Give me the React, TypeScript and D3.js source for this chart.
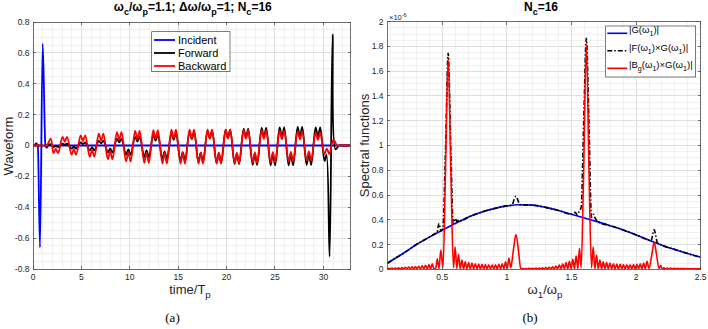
import * as d3 from 'd3';

const W = 708;
const H = 329;

// ---------- panel (a): waveforms vs time/T_p ----------
const incidentTime = [0, 0.15, 0.32, 0.5, 0.72, 1.0, 1.28, 1.42, 1.6, 32.8];
const incidentValue = [0, 0, 0.016, 0, -0.66, 0.66, 0, -0.016, 0, 0];

// one row per carrier cycle: centre of the negative lobe (the positive lobe follows it)
const cycleCentre = [2.35, 4.22, 6.1, 7.97, 9.85, 11.73, 13.6, 15.47, 17.33, 19.2, 21.06, 22.92, 24.78, 26.64, 28.5];
const lobeShift = 0.935; // negative lobe -> positive lobe
const humpHalf = 0.235; // half spacing of the twin humps inside a lobe

const backwardTrough = [-0.05, -0.06, -0.073, -0.09, -0.104, -0.113, -0.117, -0.118, -0.118, -0.117, -0.115, -0.112, -0.108, -0.104, -0.098];
const backwardBump = [-0.02, -0.025, -0.03, -0.036, -0.042, -0.046, -0.047, -0.047, -0.047, -0.047, -0.046, -0.045, -0.043, -0.041, -0.039];
const backwardPeak = [0.056, 0.066, 0.076, 0.087, 0.095, 0.1, 0.102, 0.103, 0.103, 0.102, 0.1, 0.098, 0.095, 0.092, 0.085];
const backwardDip = [0.024, 0.028, 0.032, 0.037, 0.041, 0.044, 0.045, 0.045, 0.045, 0.045, 0.044, 0.043, 0.041, 0.039, 0.036];
const backwardLead: [number, number][] = [[0, 0], [0.7, 0], [1.3, 0], [1.45, 0.002], [1.83, 0.045]];
const backwardTail: [number, number][] = [[30.1, -0.055], [30.36, -0.02], [30.6, -0.055], [31.05, 0.04], [31.4, 0.002], [31.7, 0], [32.2, 0], [32.8, 0]];

const forwardTrough = [-0.01, -0.02, -0.032, -0.045, -0.06, -0.075, -0.088, -0.1, -0.108, -0.115, -0.12, -0.125, -0.128, -0.128, -0.126];
const forwardBump = [-0.004, -0.008, -0.013, -0.019, -0.026, -0.032, -0.038, -0.043, -0.046, -0.05, -0.052, -0.054, -0.055, -0.055, -0.054];
const forwardPeak = [0.012, 0.02, 0.03, 0.043, 0.056, 0.068, 0.078, 0.088, 0.096, 0.103, 0.108, 0.114, 0.118, 0.12, 0.118];
const forwardDip = [0.005, 0.009, 0.014, 0.02, 0.026, 0.032, 0.037, 0.042, 0.045, 0.048, 0.05, 0.053, 0.055, 0.056, 0.055];
const forwardLead: [number, number][] = [[0, 0], [0.7, 0], [1.3, 0], [1.45, 0.001], [1.83, 0.008]];
const forwardTail: [number, number][] = [[30.12, -0.1], [30.32, -0.06], [30.64, -0.72], [30.95, 0.72], [31.25, -0.025], [31.6, 0], [31.8, 0], [32.3, 0], [32.8, 0]];

const waveTicksX = [0, 5, 10, 15, 20, 25, 30];
const waveTicksY = [-0.8, -0.6, -0.4, -0.2, 0, 0.2, 0.4, 0.6, 0.8];

// ---------- panel (b): spectra (x1e-6) vs w1/wp ----------
const gainOmega = [0.075, 0.1, 0.2, 0.3, 0.4, 0.5, 0.6, 0.7, 0.8, 0.9, 1.0, 1.1, 1.2, 1.3, 1.4, 1.5, 1.6, 1.7, 1.8, 1.9, 2.0, 2.1, 2.2, 2.3, 2.4, 2.5];
const gainValue = [0.048, 0.065, 0.13, 0.2, 0.26, 0.315, 0.37, 0.42, 0.46, 0.49, 0.512, 0.522, 0.518, 0.5, 0.475, 0.445, 0.415, 0.385, 0.352, 0.318, 0.278, 0.235, 0.195, 0.16, 0.127, 0.097];

const forwardSpec: [number, number][] = [
  [0.075, 0.048], [0.1, 0.065], [0.2, 0.13], [0.3, 0.2], [0.4, 0.26], [0.44, 0.285], [0.46, 0.3],
  [0.475, 0.37], [0.49, 0.31], [0.505, 0.33], [0.525, 0.95], [0.546, 1.745], [0.567, 0.95],
  [0.585, 0.37], [0.6, 0.41], [0.615, 0.385], [0.63, 0.4], [0.645, 0.39], [0.7, 0.42], [0.8, 0.46],
  [0.9, 0.49], [1.0, 0.512], [1.04, 0.518], [1.055, 0.56], [1.07, 0.59], [1.085, 0.56], [1.1, 0.522],
  [1.2, 0.518], [1.3, 0.5], [1.4, 0.475], [1.5, 0.445], [1.53, 0.46], [1.545, 0.44], [1.56, 0.47],
  [1.575, 0.5], [1.595, 1.2], [1.615, 1.865], [1.635, 1.2], [1.655, 0.42], [1.67, 0.445], [1.685, 0.41],
  [1.7, 0.385], [1.8, 0.352], [1.9, 0.318], [2.0, 0.278], [2.1, 0.235], [2.115, 0.23], [2.14, 0.32],
  [2.165, 0.215], [2.2, 0.195], [2.3, 0.16], [2.4, 0.127], [2.5, 0.097],
];

// resonances and side lobes of the backward spectrum
const backwardSpecPeaks: [number, number][] = [
  [0.075, 0.004],
  [0.449, 0.004], [0.462, 0.085], [0.475, 0.006], [0.489, 0.155], [0.506, 0.012], [0.525, 0.78],
  [0.546, 1.7], [0.567, 0.78], [0.587, 0.012], [0.6, 0.18], [0.613, 0.006], [0.626, 0.12],
  [0.639, 0.005], [0.652, 0.075], [0.665, 0.004],
  [1.016, 0.09], [1.03, 0.012], [1.05, 0.15], [1.07, 0.28], [1.09, 0.15], [1.107, 0.006],
  [1.432, 0.045], [1.445, 0.004], [1.458, 0.055], [1.471, 0.004], [1.484, 0.065], [1.497, 0.005],
  [1.51, 0.08], [1.523, 0.006], [1.536, 0.11], [1.549, 0.006], [1.562, 0.17], [1.575, 0.012],
  [1.594, 0.78], [1.615, 1.82], [1.636, 0.78], [1.655, 0.012], [1.668, 0.18], [1.681, 0.006],
  [1.694, 0.115], [1.707, 0.005], [1.72, 0.075], [1.733, 0.004],
  [2.084, 0.065], [2.1, 0.008], [2.122, 0.12], [2.14, 0.22], [2.158, 0.12], [2.178, 0.006],
  [2.19, 0.03], [2.203, 0.004], [2.5, 0.006],
];
// low ripple runs: [first maximum, spacing, maxima heights]
const backwardSpecRipples: [number, number, number[]][] = [
  [0.085, 0.026, [0.008, 0.01, 0.011, 0.012, 0.014, 0.016, 0.018, 0.02, 0.022, 0.025, 0.028, 0.032, 0.038, 0.045]],
  [0.678, 0.026, [0.06, 0.055, 0.05, 0.045, 0.042, 0.04, 0.038, 0.036, 0.035, 0.036, 0.04, 0.045, 0.06]],
  [1.12, 0.026, [0.006, 0.006, 0.008, 0.008, 0.01, 0.011, 0.012, 0.014, 0.017, 0.021, 0.026, 0.035]],
  [1.746, 0.026, [0.06, 0.055, 0.05, 0.045, 0.042, 0.04, 0.038, 0.036, 0.036, 0.038, 0.04, 0.045, 0.05]],
  [2.216, 0.026, [0.012, 0.01, 0.01, 0.008, 0.008, 0.007, 0.007, 0.006, 0.006, 0.006, 0.006]],
];
const rippleFloor = 0.004;

const specTicksX = [0.5, 1, 1.5, 2, 2.5];
const specTicksY = [0, 0.2, 0.4, 0.6, 0.8, 1, 1.2, 1.4, 1.6, 1.8, 2];

// ---------- layout ----------
const boxA = { left: 33, right: 350.5, top: 22, bottom: 269 };
const boxB = { left: 387.3, right: 700.7, top: 21.7, bottom: 269.3 };
const SANS = '"Liberation Sans", Arial, sans-serif';
const SERIF = '"Liberation Serif", "Times New Roman", serif';
const INK = '#262626';

type Pt = [number, number];
type Seg = string | { sub: string } | { sup: string };

function Rich({ segs, size }: { segs: Seg[]; size: number }) {
  let shift = 0;
  return (
    <>
      {segs.map((s, i) => {
        let target = 0;
        let text = '';
        let fs = size;
        if (typeof s === 'string') text = s;
        else if ('sub' in s) { target = size * 0.32; text = s.sub; fs = size * 0.75; }
        else { target = -size * 0.4; text = s.sup; fs = size * 0.75; }
        const dy = target - shift;
        shift = target;
        return <tspan key={i} dy={dy} fontSize={fs}>{text}</tspan>;
      })}
    </>
  );
}

function carrier(trough: number[], bump: number[], peak: number[], dip: number[]): Pt[] {
  return cycleCentre.flatMap((c, i) => {
    const m = c + lobeShift;
    return [
      [c - humpHalf, trough[i]], [c, bump[i]], [c + humpHalf, trough[i]],
      [m - humpHalf, peak[i]], [m, dip[i]], [m + humpHalf, peak[i]],
    ] as Pt[];
  });
}

interface FrameProps {
  box: typeof boxA;
  x: d3.ScaleLinear<number, number>;
  y: d3.ScaleLinear<number, number>;
  xTicks: number[];
  yTicks: number[];
  xMinor: number[];
  yMinor: number[];
  labelRight: number;
}

function Grid({ box, x, y, xTicks, yTicks, xMinor, yMinor }: FrameProps) {
  return (
    <g shapeRendering="crispEdges">
      {xMinor.map(v => <line key={'xm' + v} x1={x(v)} x2={x(v)} y1={box.top} y2={box.bottom} stroke="#f0f0f0" />)}
      {yMinor.map(v => <line key={'ym' + v} x1={box.left} x2={box.right} y1={y(v)} y2={y(v)} stroke="#f0f0f0" />)}
      {xTicks.map(v => <line key={'xg' + v} x1={x(v)} x2={x(v)} y1={box.top} y2={box.bottom} stroke="#dedede" />)}
      {yTicks.map(v => <line key={'yg' + v} x1={box.left} x2={box.right} y1={y(v)} y2={y(v)} stroke="#dedede" />)}
    </g>
  );
}

function Frame({ box, x, y, xTicks, yTicks, labelRight }: FrameProps) {
  const tl = 3;
  return (
    <g>
      <g stroke="#4d4d4d" strokeWidth={0.8} shapeRendering="crispEdges">
        <rect x={box.left} y={box.top} width={box.right - box.left} height={box.bottom - box.top} fill="none" />
        {xTicks.map(v => (
          <g key={'xt' + v}>
            <line x1={x(v)} x2={x(v)} y1={box.bottom} y2={box.bottom - tl} />
            <line x1={x(v)} x2={x(v)} y1={box.top} y2={box.top + tl} />
          </g>
        ))}
        {yTicks.map(v => (
          <g key={'yt' + v}>
            <line x1={box.left} x2={box.left + tl} y1={y(v)} y2={y(v)} />
            <line x1={box.right} x2={box.right - tl} y1={y(v)} y2={y(v)} />
          </g>
        ))}
      </g>
      <g fontFamily={SANS} fontSize={8.5} fill={INK}>
        {xTicks.map(v => (
          <text key={'xl' + v} x={x(v)} y={280} textAnchor="middle">{String(v)}</text>
        ))}
        {yTicks.map(v => (
          <text key={'yl' + v} x={labelRight} y={y(v)} dy="0.35em" textAnchor="end">{String(Math.round(v * 10) / 10)}</text>
        ))}
      </g>
    </g>
  );
}

export default function App() {
  // panel (a)
  const tScale = d3.scaleLinear().domain([0, 32.8]).range([boxA.left, boxA.right]);
  const wScale = d3.scaleLinear().domain([-0.8, 0.8]).range([boxA.bottom, boxA.top]);
  const waveLine = d3.line<Pt>().x(d => tScale(d[0])).y(d => wScale(d[1])).curve(d3.curveCatmullRom.alpha(0.5));
  const pulseLine = d3.line<Pt>().x(d => tScale(d[0])).y(d => wScale(d[1])).curve(d3.curveMonotoneX);

  const incident: Pt[] = incidentTime.map((t, i) => [t, incidentValue[i]]);
  const forward: Pt[] = [...forwardLead, ...carrier(forwardTrough, forwardBump, forwardPeak, forwardDip), ...forwardTail];
  const backward: Pt[] = [...backwardLead, ...carrier(backwardTrough, backwardBump, backwardPeak, backwardDip), ...backwardTail];

  // panel (b)
  const fScale = d3.scaleLinear().domain([0.075, 2.5]).range([boxB.left, boxB.right]);
  const sScale = d3.scaleLinear().domain([0, 2]).range([boxB.bottom, boxB.top]);
  const specLine = d3.line<Pt>().x(d => fScale(d[0])).y(d => sScale(d[1])).curve(d3.curveMonotoneX);

  const gain: Pt[] = gainOmega.map((w, i) => [w, gainValue[i]]);
  const backSpec: Pt[] = [
    ...backwardSpecPeaks,
    ...backwardSpecRipples.flatMap(([start, step, hs]) =>
      hs.flatMap((h, i) => [[start + i * step, h], [start + i * step + step / 2, rippleFloor]] as Pt[])),
  ].sort((a, b) => a[0] - b[0]);

  const waveMinorX = d3.range(1, 33, 1).filter(v => v % 5 !== 0);
  const waveMinorY = d3.range(-0.75, 0.8, 0.05).filter(v => Math.abs(v * 5 - Math.round(v * 5)) > 1e-6);
  const specMinorX = d3.range(0.1, 2.5, 0.1).filter(v => Math.abs(v * 2 - Math.round(v * 2)) > 1e-6);
  const specMinorY = d3.range(0.05, 2, 0.05).filter(v => Math.abs(v * 5 - Math.round(v * 5)) > 1e-6);

  const propsA: FrameProps = { box: boxA, x: tScale, y: wScale, xTicks: waveTicksX, yTicks: waveTicksY, xMinor: waveMinorX, yMinor: waveMinorY, labelRight: 29.5 };
  const propsB: FrameProps = { box: boxB, x: fScale, y: sScale, xTicks: specTicksX, yTicks: specTicksY, xMinor: specMinorX, yMinor: specMinorY, labelRight: 383.5 };

  const legendA = [
    { label: 'Incident', color: '#0000ff' },
    { label: 'Forward', color: '#000000' },
    { label: 'Backward', color: '#ff0000' },
  ];
  const legendB: { segs: Seg[]; color: string; dash?: string }[] = [
    { segs: ['|G(ω', { sub: '1' }, ')|'], color: '#0000ff' },
    { segs: ['|F(ω', { sub: '1' }, ')×G(ω', { sub: '1' }, ')|'], color: '#000000', dash: '5 2 1.5 2' },
    { segs: ['|B', { sub: 'g' }, '(ω', { sub: '1' }, ')×G(ω', { sub: '1' }, ')|'], color: '#ff0000' },
  ];

  return (
    <svg width={W} height={H} style={{ position: 'absolute', left: 0, top: 0, background: '#fff' }}>
      <defs>
        <clipPath id="clipA"><rect x={boxA.left} y={boxA.top} width={boxA.right - boxA.left} height={boxA.bottom - boxA.top} /></clipPath>
        <clipPath id="clipB"><rect x={boxB.left} y={boxB.top} width={boxB.right - boxB.left} height={boxB.bottom - boxB.top} /></clipPath>
      </defs>

      {/* (a) waveforms */}
      <rect x={boxA.left} y={boxA.top} width={boxA.right - boxA.left} height={boxA.bottom - boxA.top} fill="#fff" />
      <Grid {...propsA} />
      <g clipPath="url(#clipA)" fill="none" strokeWidth={1.8} strokeLinejoin="round">
        <path d={pulseLine(incident) ?? ''} stroke="#0000ff" />
        <path d={waveLine(forward) ?? ''} stroke="#000000" />
        <path d={waveLine(backward) ?? ''} stroke="#ff0000" />
      </g>
      <Frame {...propsA} />

      <g>
        <rect x={151.7} y={31.7} width={78.3} height={40} fill="#fff" stroke={INK} strokeWidth={0.6} />
        {legendA.map((d, i) => (
          <g key={d.label} transform={`translate(0,${40 + i * 13})`}>
            <line x1={154} x2={175} y1={0} y2={0} stroke={d.color} strokeWidth={1.8} />
            <text x={178} y={0} dy="0.35em" fontFamily={SANS} fontSize={11} fill="#000">{d.label}</text>
          </g>
        ))}
      </g>

      <text x={(boxA.left + boxA.right) / 2 + 1} y={11} textAnchor="middle" fontFamily={SANS} fontWeight="bold" fontSize={12} fill="#000">
        <Rich size={12} segs={['ω', { sub: 'c' }, '/ω', { sub: 'p' }, '=1.1; Δω/ω', { sub: 'p' }, '=1; N', { sub: 'c' }, '=16']} />
      </text>
      <text x={190} y={294} textAnchor="middle" fontFamily={SANS} fontSize={13} fill={INK}>
        <Rich size={13} segs={['time/T', { sub: 'p' }]} />
      </text>
      <text transform="translate(13,146) rotate(-90)" textAnchor="middle" fontFamily={SANS} fontSize={13} fill={INK}>Waveform</text>
      <text x={172.5} y={322} textAnchor="middle" fontFamily={SERIF} fontSize={13} fill="#000">(a)</text>

      {/* (b) spectra */}
      <rect x={boxB.left} y={boxB.top} width={boxB.right - boxB.left} height={boxB.bottom - boxB.top} fill="#fff" />
      <Grid {...propsB} />
      <g clipPath="url(#clipB)" fill="none" strokeWidth={1.6} strokeLinejoin="round">
        <path d={specLine(gain) ?? ''} stroke="#0000ff" />
        <path d={specLine(forwardSpec) ?? ''} stroke="#000000" strokeDasharray="5 2 1.5 2" />
        <path d={specLine(backSpec) ?? ''} stroke="#ff0000" />
      </g>
      <Frame {...propsB} />
      <text x={389} y={19.5} fontFamily={SANS} fontSize={7.5} fill={INK}>
        <Rich size={7.5} segs={['×10', { sup: '-6' }]} />
      </text>

      <g>
        <rect x={605.7} y={26} width={90} height={51} fill="#fff" stroke={INK} strokeWidth={0.6} />
        {legendB.map((d, i) => (
          <g key={i} transform={`translate(0,${33.3 + i * 17.5})`}>
            <line x1={607.3} x2={627.3} y1={0} y2={0} stroke={d.color} strokeWidth={1.6} strokeDasharray={d.dash} />
            <text x={629} y={0} dy="0.35em" fontFamily={SANS} fontSize={9.5} fill="#000">
              <Rich size={9.5} segs={d.segs} />
            </text>
          </g>
        ))}
      </g>

      <text x={541} y={11} textAnchor="middle" fontFamily={SANS} fontWeight="bold" fontSize={12} fill="#000">
        <Rich size={12} segs={['N', { sub: 'c' }, '=16']} />
      </text>
      <text x={545} y={294} textAnchor="middle" fontFamily={SANS} fontSize={13} fill={INK}>
        <Rich size={13} segs={['ω', { sub: '1' }, '/ω', { sub: 'p' }]} />
      </text>
      <text transform="translate(369,145.5) rotate(-90)" textAnchor="middle" fontFamily={SANS} fontSize={13} fill={INK}>Spectral functions</text>
      <text x={530} y={322} textAnchor="middle" fontFamily={SERIF} fontSize={13} fill="#000">(b)</text>
    </svg>
  );
}
